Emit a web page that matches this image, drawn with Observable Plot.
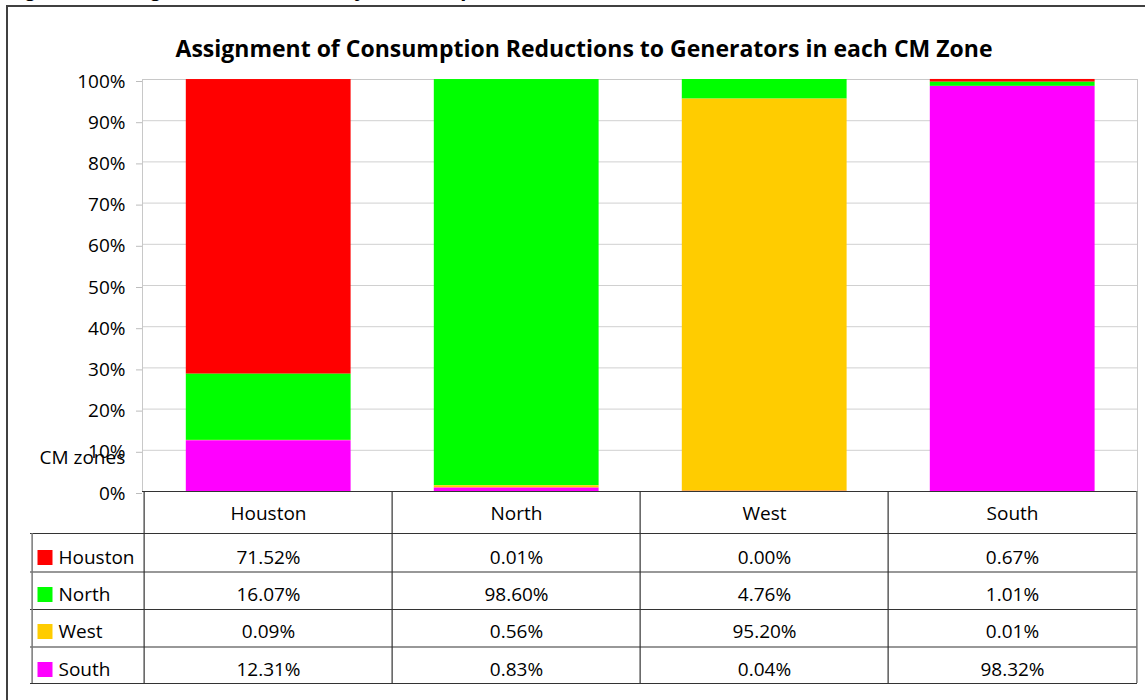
<!DOCTYPE html>
<html><head><meta charset="utf-8">
<script src="https://cdn.jsdelivr.net/npm/d3@7"></script>
<script src="https://cdn.jsdelivr.net/npm/@observablehq/plot@0.6"></script>
<style>
body{margin:0;background:#fff;overflow:hidden;}
#wrap{position:relative;width:1145px;height:700px;overflow:hidden;background:#fff;}
#frame{position:absolute;left:6px;top:5px;width:1200px;height:800px;border:2px solid #404040;}
#fig{position:absolute;left:4px;top:-24px;font:bold 22px "Liberation Sans";white-space:nowrap;color:#000;}
#title{position:absolute;left:0;width:1168px;top:32px;text-align:center;font:bold 23px "Open Sans";color:#000;line-height:normal;}
#chart{position:absolute;left:0;top:0;}
</style></head>
<body>
<div id="wrap">
  <div id="fig">Figure 6: Assignment of Electricity Consumption Reductions to Generators in each CM Zone</div>
  <div id="frame"></div>
  <div id="chart"></div>
  <div id="title">Assignment of Consumption Reductions to Generators in each CM Zone</div>
</div>
<script>
// CM zones (columns / bars)
const zones = ["Houston", "North", "West", "South"];
// Generator zones (series / table rows)
const generators = ["Houston", "North", "West", "South"];
// Share (%) of each zone's consumption reduction assigned to generators in each zone
const houstonGen = [71.52, 0.01, 0.00, 0.67];
const northGen   = [16.07, 98.60, 4.76, 1.01];
const westGen    = [0.09, 0.56, 95.20, 0.01];
const southGen   = [12.31, 0.83, 0.04, 98.32];
const genColors  = ["#FF0000", "#00FF00", "#FFCC00", "#FF00FF"];
const stackOrder = ["South", "West", "North", "Houston"];
const yTicks = [0, 10, 20, 30, 40, 50, 60, 70, 80, 90, 100];

const series = [houstonGen, northGen, westGen, southGen];
const rows = [];
generators.forEach((g, i) => zones.forEach((z, j) => rows.push({zone: z, gen: g, value: series[i][j]})));

const W = 1145, H = 700, mL = 142, mR = 8, mT = 79, mB = 209;
const band = (W - mL - mR) / zones.length;
const lineC = "#333";
const FS = 19;
const rowLines = [42, 80.5, 118, 155.5, 192];   // offsets below the 0% line
const rowText = [66, 103, 140, 178];

const marks = [
  Plot.gridY(yTicks, {stroke: "#d0d0d0", strokeOpacity: 1}),
  Plot.frame({stroke: "#c8c8c8"}),
  Plot.axisY(yTicks, {tickSize: 6, tickPadding: 11, tickFormat: d => d + "%", stroke: "#bdbdbd", fontSize: FS, dy: 2, label: null}),
  Plot.barY(rows, Plot.stackY({x: "zone", y: "value", fill: "gen", order: stackOrder, insetLeft: 41.8, insetRight: 41.4})),
  Plot.ruleY([0], {stroke: lineC, strokeWidth: 1.2}),
  ...rowLines.map(o => Plot.ruleY([0], {dy: o, insetLeft: -112, stroke: lineC, strokeWidth: 1.2})),
  Plot.ruleX(zones, {x: d => d, dx: -band / 2, insetTop: 412, insetBottom: -192, stroke: lineC, strokeWidth: 1.2}),
  Plot.ruleX([zones[zones.length - 1]], {x: d => d, dx: band / 2, insetTop: 412, insetBottom: -192, stroke: "#777", strokeWidth: 1.5}),
  Plot.ruleX([zones[0]], {x: d => d, dx: -band / 2 - 112, insetTop: 454, insetBottom: -192, stroke: "#777", strokeWidth: 1.5}),
  Plot.text(zones, {x: d => d, frameAnchor: "bottom", lineAnchor: "middle", dy: 22, text: d => d, fontSize: FS}),
  ...series.map((vals, i) => Plot.text(zones, {x: d => d, frameAnchor: "bottom", lineAnchor: "middle", dy: rowText[i], text: (d, j) => vals[j].toFixed(2) + "%", fontSize: FS})),
  ...generators.map((g, i) => Plot.dot([g], {frameAnchor: "bottom-left", dx: -97.5, dy: rowText[i], symbol: "square", r: 15 / Math.sqrt(Math.PI), fill: d => d, stroke: null})),
  ...generators.map((g, i) => Plot.text([g], {frameAnchor: "bottom-left", lineAnchor: "middle", dx: -84, dy: rowText[i], textAnchor: "start", text: d => d, fontSize: FS})),
  Plot.text(["CM zones"], {frameAnchor: "bottom-left", lineAnchor: "middle", dx: -103, dy: -34, textAnchor: "start", text: d => d, fontSize: FS})
];

const chart = Plot.plot({
  width: W, height: H, marginLeft: mL, marginRight: mR, marginTop: mT, marginBottom: mB,
  style: {fontFamily: "Open Sans", fontSize: FS + "px", color: "#000", background: "transparent"},
  x: {domain: zones, padding: 0, axis: null},
  y: {domain: [0, 100], axis: null},
  color: {domain: generators, range: genColors},
  marks
});
document.getElementById("chart").appendChild(chart);
</script>
</body></html>
